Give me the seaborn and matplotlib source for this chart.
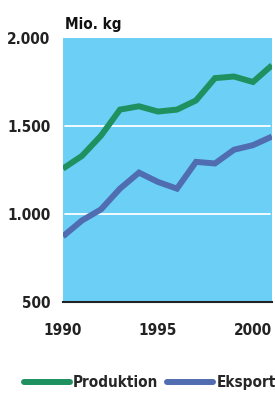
import pandas as pd
import seaborn as sns
import matplotlib.pyplot as plt

years = list(range(1990, 2002))
produktion = [1258, 1330, 1445, 1593, 1612, 1582, 1593, 1645, 1772, 1781, 1750, 1845]
eksport = [873, 963, 1026, 1144, 1235, 1182, 1144, 1296, 1287, 1365, 1391, 1440]
series_names = ["Produktion", "Eksport"]
colors = ["#1f9160", "#4f6db0"]

df = pd.DataFrame({
    "year": years * 2,
    "value": produktion + eksport,
    "serie": [series_names[0]] * len(years) + [series_names[1]] * len(years),
})

sns.set_style("white")
plt.rcParams["font.family"] = ["DejaVu Sans"]
plt.rcParams["font.stretch"] = "condensed"

fig = plt.figure(figsize=(2.75, 4.04), dpi=100)
ax = fig.add_axes([0.229, 0.2525, 0.76, 0.6535])
ax.set_facecolor("#6ccff6")

for y in [1000, 1500]:
    ax.axhline(y, color="white", lw=1.3, xmin=0.01, xmax=0.99, zorder=1)

sns.lineplot(data=df, x="year", y="value", hue="serie", palette=colors,
             linewidth=4.3, ax=ax, legend=False, zorder=3,
             solid_capstyle="butt", solid_joinstyle="miter")

ax.set_xlim(1990, 2001)
ax.set_ylim(500, 2000)
ax.set_xticks(years)
ax.set_xticklabels([str(y) if y % 5 == 0 else "" for y in years])
ax.set_yticks([500, 1000, 1500, 2000])
ax.set_yticklabels(["500", "1.000", "1.500", "2.000"])
ax.set_xlabel("")
ax.set_ylabel("")
for s in ["top", "right", "left"]:
    ax.spines[s].set_visible(False)
ax.spines["bottom"].set_color("#222222")
ax.spines["bottom"].set_linewidth(1.5)
ax.tick_params(axis="x", direction="out", length=5, width=1.5, color="#222222",
               labelsize=11, labelcolor="#222222", pad=10)
ax.tick_params(axis="y", length=0, labelsize=11, labelcolor="#222222", pad=9)
for lab in ax.get_xticklabels() + ax.get_yticklabels():
    lab.set_fontweight("bold")
    lab.set_fontstretch("condensed")

fig.text(0.236, 0.922, "Mio. kg", fontsize=11, fontweight="bold", color="#111111",
         ha="left", va="bottom", fontstretch="condensed")

handles = [plt.Line2D([0], [0], color=c, lw=4.3, solid_capstyle="round") for c in colors]
fig.legend(handles, series_names, loc="lower center", bbox_to_anchor=(0.545, 0.0),
           ncol=2, frameon=False, handlelength=3.0, handletextpad=0.2,
           columnspacing=0.6,
           prop={"weight": "bold", "size": 11, "stretch": "condensed"})

fig.savefig("out.png", dpi=100)
